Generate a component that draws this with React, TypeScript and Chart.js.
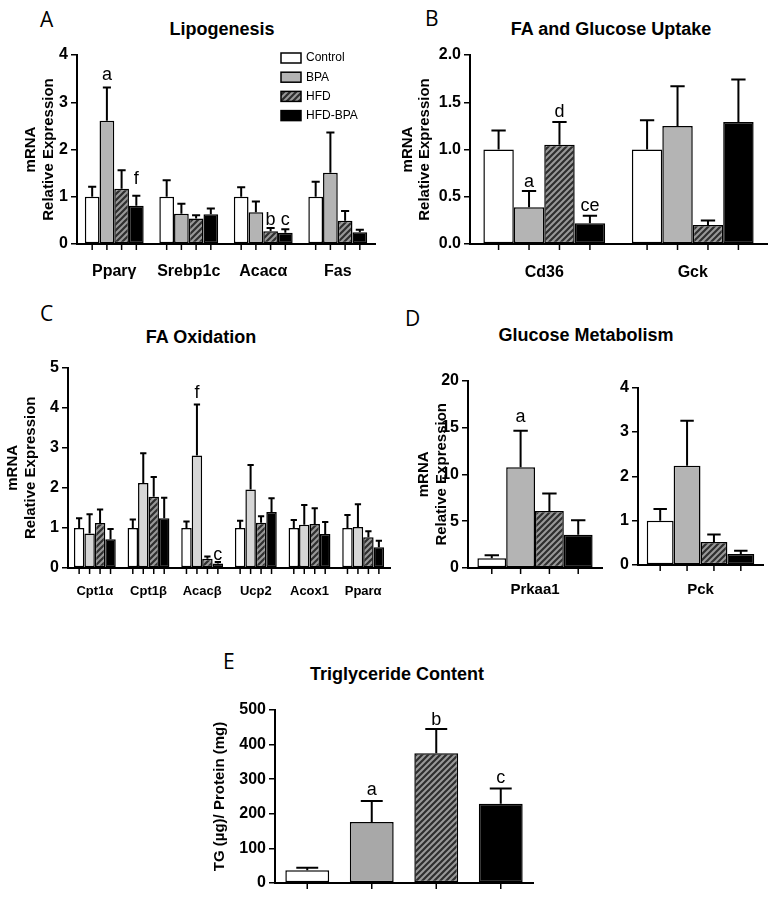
import React, { useEffect, useRef } from 'react';
import { Chart, registerables } from 'chart.js';

Chart.register(...registerables);
Chart.defaults.font.family = '"Liberation Sans", Arial, sans-serif';

// ---------------- DATA ----------------
const groups = ['Control', 'BPA', 'HFD', 'HFD-BPA'];

// A: Lipogenesis
const lipoGenes = ['Pparγ', 'Srebp1c', 'Acacα', 'Fas'];
const lipoMean = [
  [1.0, 1.0, 1.0, 1.0],
  [2.61, 0.64, 0.67, 1.51],
  [1.17, 0.54, 0.27, 0.49],
  [0.81, 0.63, 0.24, 0.25],
];
const lipoSem = [
  [0.21, 0.35, 0.2, 0.32],
  [0.7, 0.21, 0.23, 0.85],
  [0.39, 0.07, 0.07, 0.21],
  [0.21, 0.12, 0.07, 0.05],
];
const lipoTicks = [0, 1, 2, 3, 4];
const lipoLetters = [
  { group: 1, cat: 0, text: 'a', at: 3.47 },
  { group: 3, cat: 0, text: 'f', at: 1.28 },
  { group: 2, cat: 2, text: 'b', at: 0.4 },
  { group: 3, cat: 2, text: 'c', at: 0.4 },
];

// B: FA and Glucose Uptake
const uptakeGenes = ['Cd36', 'Gck'];
const uptakeMean = [
  [1.0, 1.0],
  [0.39, 1.25],
  [1.05, 0.2],
  [0.22, 1.29],
];
const uptakeSem = [
  [0.2, 0.31],
  [0.17, 0.42],
  [0.24, 0.05],
  [0.08, 0.45],
];
const uptakeTicks = [0, 0.5, 1.0, 1.5, 2.0];
const uptakeLetters = [
  { group: 1, cat: 0, text: 'a', at: 0.6 },
  { group: 2, cat: 0, text: 'd', at: 1.345 },
  { group: 3, cat: 0, text: 'ce', at: 0.35 },
];

// C: FA Oxidation
const oxGenes = ['Cpt1α', 'Cpt1β', 'Acacβ', 'Ucp2', 'Acox1', 'Pparα'];
const oxMean = [
  [1.0, 1.0, 1.0, 1.0, 1.0, 1.0],
  [0.86, 2.12, 2.81, 1.96, 1.08, 1.02],
  [1.12, 1.78, 0.23, 1.13, 1.1, 0.77],
  [0.72, 1.24, 0.11, 1.4, 0.85, 0.52],
];
const oxSem = [
  [0.24, 0.21, 0.16, 0.18, 0.2, 0.32],
  [0.48, 0.74, 1.27, 0.61, 0.49, 0.57],
  [0.34, 0.49, 0.06, 0.16, 0.39, 0.15],
  [0.25, 0.51, 0.04, 0.34, 0.3, 0.16],
];
const oxTicks = [0, 1, 2, 3, 4, 5];
const oxLetters = [
  { group: 1, cat: 2, text: 'f', at: 4.24 },
  { group: 3, cat: 2, text: 'c', at: 0.2 },
];

// D: Glucose Metabolism
const prkGenes = ['Prkaa1'];
const prkMean = [[1.03], [10.76], [6.09], [3.54]];
const prkSem = [[0.32], [3.89], [1.87], [1.56]];
const prkTicks = [0, 5, 10, 15, 20];
const prkLetters = [{ group: 1, cat: 0, text: 'a', at: 15.6 }];

const pckGenes = ['Pck'];
const pckMean = [[1.0], [2.24], [0.52], [0.25]];
const pckSem = [[0.26], [1.01], [0.17], [0.07]];
const pckTicks = [0, 1, 2, 3, 4];
const pckLetters: any[] = [];

// E: Triglyceride Content
const tgMean = [37, 176, 375, 229];
const tgSem = [7, 61, 70, 44];
const tgTicks = [0, 100, 200, 300, 400, 500];
const tgLetters = [
  { group: 0, cat: 1, text: 'a', at: 254 },
  { group: 0, cat: 2, text: 'b', at: 457 },
  { group: 0, cat: 3, text: 'c', at: 289 },
];

// ---------------- LAYOUT ----------------
const panels: any[] = [
  {
    id: 'A', box: { l: 0, t: 40, w: 385, h: 250 }, plot: { x0: 77, y0: 55, x1: 375, y1: 244 },
    categories: lipoGenes, means: lipoMean, sems: lipoSem, ticks: lipoTicks, dec: 0, letters: lipoLetters,
    yTitle: ['mRNA', 'Relative Expression'], yTitleCenter: 31, bpa: '#b4b4b4',
    catPct: 0.79, barPct: 1, xFont: 16, xPad: 18, showX: true, legend: { x: 281, y: 53 }, cap: 0.55,
  },
  {
    id: 'B', box: { l: 385, t: 40, w: 385, h: 250 }, plot: { x0: 470, y0: 55, x1: 767, y1: 244 },
    categories: uptakeGenes, means: uptakeMean, sems: uptakeSem, ticks: uptakeTicks, dec: 1, letters: uptakeLetters,
    yTitle: ['mRNA', 'Relative Expression'], yTitleCenter: 407.5, bpa: '#b4b4b4',
    catPct: 0.82, barPct: 1, xFont: 16, xPad: 19, showX: true, cap: 0.47,
  },
  {
    id: 'C', box: { l: 0, t: 355, w: 400, h: 250 }, plot: { x0: 68, y0: 366, x1: 390, y1: 568 },
    categories: oxGenes, means: oxMean, sems: oxSem, ticks: oxTicks, dec: 0, letters: oxLetters,
    yTitle: ['mRNA', 'Relative Expression'], yTitleCenter: 13, bpa: '#d6d6d6',
    catPct: 0.78, barPct: 1, xFont: 13, xPad: 16, showX: true, cap: 0.6,
  },
  {
    id: 'D1', box: { l: 400, t: 368, w: 210, h: 237 }, plot: { x0: 468, y0: 380, x1: 602, y1: 568 },
    categories: prkGenes, means: prkMean, sems: prkSem, ticks: prkTicks, dec: 0, letters: prkLetters,
    yTitle: ['mRNA', 'Relative Expression'], yTitleCenter: 424, bpa: '#b4b4b4',
    catPct: 0.86, barPct: 1, xFont: 15, xPad: 13, showX: true, cap: 0.5,
  },
  {
    id: 'D2', box: { l: 605, t: 375, w: 165, h: 230 }, plot: { x0: 638, y0: 387, x1: 763, y1: 565 },
    categories: pckGenes, means: pckMean, sems: pckSem, ticks: pckTicks, dec: 0, letters: pckLetters,
    bpa: '#b4b4b4', catPct: 0.86, barPct: 1, xFont: 15, xPad: 16, showX: true, cap: 0.5,
  },
  {
    id: 'E', box: { l: 200, t: 695, w: 345, h: 202 }, plot: { x0: 275, y0: 710, x1: 533, y1: 883 },
    categories: groups, means: [tgMean], sems: [tgSem], ticks: tgTicks, dec: 0, letters: tgLetters,
    yTitle: 'TG (µg)/ Protein (mg)', yTitleCenter: 220, bpa: '#a8a8a8', single: true,
    catPct: 1, barPct: 0.68, xFont: 15, xPad: 10, showX: false, cap: 0.5,
  },
];

const texts = [
  { t: 'A', x: 40, cap: 13, size: 21, title: false },
  { t: 'Lipogenesis', x: 222, cap: 22, size: 18, title: true },
  { t: 'B', x: 425, cap: 12, size: 21, title: false },
  { t: 'FA and Glucose Uptake', x: 611, cap: 22, size: 18, title: true },
  { t: 'C', x: 40, cap: 307, size: 21, title: false },
  { t: 'FA Oxidation', x: 201, cap: 330, size: 18, title: true },
  { t: 'D', x: 405, cap: 312, size: 21, title: false },
  { t: 'Glucose Metabolism', x: 586, cap: 328, size: 18, title: true },
  { t: 'E', x: 223, cap: 655, size: 21, title: false },
  { t: 'Triglyceride Content', x: 397, cap: 667, size: 18, title: true },
];

function makeHatch(ctx: CanvasRenderingContext2D) {
  const s = 6;
  const c = document.createElement('canvas');
  c.width = s;
  c.height = s;
  const g = c.getContext('2d')!;
  g.fillStyle = '#999999';
  g.fillRect(0, 0, s, s);
  g.strokeStyle = '#2e2e2e';
  g.lineWidth = 2.2;
  g.beginPath();
  g.moveTo(0, s); g.lineTo(s, 0);
  g.moveTo(-s / 2, s / 2); g.lineTo(s / 2, -s / 2);
  g.moveTo(s / 2, s * 1.5); g.lineTo(s * 1.5, s / 2);
  g.stroke();
  return ctx.createPattern(c, 'repeat')!;
}

const decor = {
  id: 'decor',
  afterDatasetsDraw(chart: any, _args: any, o: any) {
    const ctx: CanvasRenderingContext2D = chart.ctx;
    const ys = chart.scales.y;
    const bottom = chart.chartArea.bottom;
    ctx.save();
    ctx.strokeStyle = '#000';
    chart.data.datasets.forEach((ds: any, di: number) => {
      const meta = chart.getDatasetMeta(di);
      meta.data.forEach((bar: any, i: number) => {
        const x = bar.x;
        const top = bar.y;
        const w = bar.width;
        const ey = ys.getPixelForValue(ds.data[i] + o.sems[di][i]);
        const cw = w * o.cap;
        ctx.lineWidth = 2;
        ctx.beginPath();
        ctx.moveTo(x, top);
        ctx.lineTo(x, ey);
        ctx.moveTo(x - cw / 2, ey);
        ctx.lineTo(x + cw / 2, ey);
        ctx.stroke();
        ctx.lineWidth = 1.5;
        ctx.beginPath();
        ctx.moveTo(x, bottom);
        ctx.lineTo(x, bottom + 6);
        ctx.stroke();
      });
    });
    ctx.fillStyle = '#000';
    ctx.font = '18px "Liberation Sans", Arial, sans-serif';
    ctx.textAlign = 'center';
    ctx.textBaseline = 'alphabetic';
    o.letters.forEach((L: any) => {
      const bar = chart.getDatasetMeta(L.group).data[L.cat];
      ctx.fillText(L.text, bar.x, ys.getPixelForValue(L.at));
    });
    if (o.legend) {
      ctx.font = '12px "Liberation Sans", Arial, sans-serif';
      ctx.textAlign = 'left';
      ctx.textBaseline = 'middle';
      chart.data.datasets.forEach((ds: any, di: number) => {
        const bx = o.legend.x;
        const by = o.legend.y + di * 19.2;
        ctx.fillStyle = ds.backgroundColor;
        ctx.fillRect(bx, by, 20, 10);
        ctx.lineWidth = 1.5;
        ctx.strokeStyle = '#000';
        ctx.strokeRect(bx, by, 20, 10);
        ctx.fillStyle = '#000';
        ctx.fillText(ds.label, bx + 25, by + 5);
      });
    }
    ctx.restore();
  },
};

function build(canvas: HTMLCanvasElement, p: any) {
  const ctx = canvas.getContext('2d')!;
  const hatch = makeHatch(ctx);
  const fills = ['#ffffff', p.bpa, hatch, '#000000'];
  const common = {
    borderColor: '#000',
    borderWidth: 1.5,
    borderSkipped: false,
    barPercentage: p.barPct,
    categoryPercentage: p.catPct,
  };
  const datasets = p.single
    ? [{ label: 'TG', data: p.means[0], backgroundColor: fills, ...common }]
    : groups.map((g, k) => ({ label: g, data: p.means[k], backgroundColor: fills[k], ...common }));
  const { box, plot } = p;
  const yW = plot.x0 - box.l;
  const xH = box.t + box.h - plot.y1;
  const lh = 17.5;
  const legend = p.legend ? { x: p.legend.x - box.l, y: p.legend.y - box.t } : null;
  return new Chart(ctx, {
    type: 'bar',
    data: { labels: p.categories, datasets: datasets as any },
    plugins: [decor as any],
    options: {
      responsive: false,
      animation: false,
      layout: { padding: { left: 0, top: plot.y0 - box.t, right: box.l + box.w - plot.x1, bottom: 0 } },
      plugins: {
        legend: { display: false },
        tooltip: { enabled: false },
        decor: { sems: p.sems, letters: p.letters, cap: p.cap, legend },
      } as any,
      scales: {
        x: {
          type: 'category',
          offset: true,
          grid: { display: false, drawTicks: false },
          border: { display: true, color: '#000', width: 2 },
          ticks: {
            display: p.showX,
            color: '#000',
            font: { size: p.xFont, weight: 'bold' },
            padding: p.xPad,
            autoSkip: false,
            maxRotation: 0,
          },
          afterFit: (s: any) => { s.height = xH; },
        },
        y: {
          min: 0,
          max: p.ticks[p.ticks.length - 1],
          grid: { display: true, drawOnChartArea: false, drawTicks: true, tickLength: 6, color: '#000', lineWidth: 1.5 },
          border: { display: true, color: '#000', width: 2 },
          ticks: {
            color: '#000',
            font: { size: 16, weight: 'bold' },
            padding: 3,
            callback: (v: any) => Number(v).toFixed(p.dec),
          },
          afterBuildTicks: (s: any) => { s.ticks = p.ticks.map((v: number) => ({ value: v })); },
          title: p.yTitle
            ? {
                display: true,
                text: p.yTitle,
                color: '#000',
                font: { size: 15, weight: 'bold', lineHeight: lh / 15 },
                padding: { top: p.yTitleCenter - box.l - lh / 2, bottom: 0 },
              }
            : { display: false },
          afterFit: (s: any) => { s.width = yW; },
        },
      } as any,
    },
  });
}

export default function App() {
  const refs = useRef<(HTMLCanvasElement | null)[]>([]);
  useEffect(() => {
    const charts = panels.map((p, i) => build(refs.current[i]!, p));
    return () => charts.forEach((c) => c.destroy());
  }, []);
  return (
    <div style={{ position: 'absolute', left: 0, top: 0, width: 770, height: 897, background: '#fff', overflow: 'hidden' }}>
      {panels.map((p, i) => (
        <canvas
          key={p.id}
          ref={(el) => { refs.current[i] = el; }}
          width={p.box.w}
          height={p.box.h}
          style={{ position: 'absolute', left: p.box.l, top: p.box.t, width: p.box.w, height: p.box.h }}
        />
      ))}
      {texts.map((t) => {
        const fam = t.title ? '"Liberation Sans", Arial, sans-serif' : '"Open Sans", sans-serif';
        const off = t.title ? 0.1305 * t.size : 0.174 * t.size;
        return (
          <div
            key={t.t}
            style={{
              position: 'absolute',
              left: t.title ? t.x - 150 : t.x,
              width: t.title ? 300 : undefined,
              top: t.cap - off,
              fontFamily: fam,
              fontSize: t.size,
              fontWeight: t.title ? 700 : 400,
              lineHeight: 1,
              textAlign: t.title ? 'center' : 'left',
              whiteSpace: 'nowrap',
              color: '#000',
            }}
          >
            {t.t}
          </div>
        );
      })}
    </div>
  );
}
